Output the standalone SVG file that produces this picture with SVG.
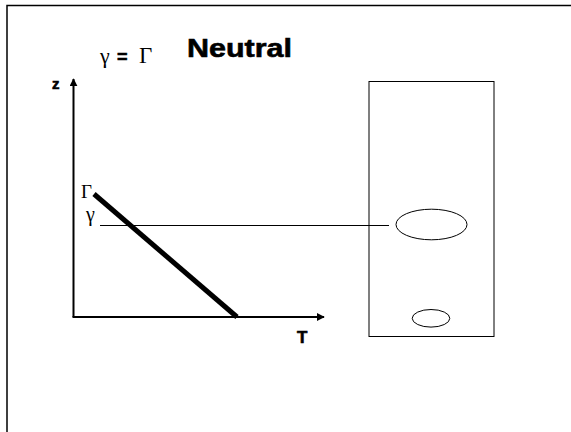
<svg xmlns="http://www.w3.org/2000/svg" width="571" height="432" viewBox="0 0 571 432">
<style>
.sans{font-family:"Liberation Sans",Arial,sans-serif;font-weight:bold;fill:#000;stroke:#000;stroke-width:0.6}
.serif{font-family:"Liberation Serif","Times New Roman",serif;fill:#000}
.thin{stroke:#000;fill:none;stroke-width:1}
</style>
<defs>
<marker id="arr" viewBox="0 0 10 10" refX="9" refY="5" markerWidth="4" markerHeight="4" orient="auto" markerUnits="strokeWidth">
<path d="M0,0 L10,5 L0,10 z" fill="#000"/>
</marker>
</defs>
<rect width="571" height="432" fill="#fff"/>
<path d="M7,432 V5.5 H571" fill="none" stroke="#000" stroke-width="1.5"/>
<g id="title">
<text class="serif" x="100" y="63" font-size="22">γ</text>
<text class="sans" x="117" y="63" font-size="18">=</text>
<text class="serif" x="139" y="63" font-size="23">Γ</text>
<text class="sans" x="187" y="57" font-size="26" textLength="105" lengthAdjust="spacingAndGlyphs">Neutral</text>
</g>
<g id="axes">
<line x1="73.5" y1="317" x2="73.5" y2="79" stroke="#000" stroke-width="2" marker-end="url(#arr)"/>
<line x1="72.5" y1="317" x2="324" y2="317" stroke="#000" stroke-width="2" marker-end="url(#arr)"/>
<text class="sans" x="52" y="89" font-size="15">z</text>
<text class="sans" x="297" y="343" font-size="17">T</text>
</g>
<g id="profile">
<line x1="94" y1="194" x2="237" y2="317" stroke="#000" stroke-width="5"/>
<text class="serif" x="81" y="198" font-size="19">Γ</text>
<text class="serif" x="86" y="221" font-size="20">γ</text>
</g>
<g id="connectors">
<line class="thin" x1="100" y1="225.5" x2="389" y2="225.5"/>
</g>
<g id="column">
<rect class="thin" x="369" y="81.5" width="125" height="255"/>
</g>
<g id="parcel-upper">
<ellipse class="thin" cx="431.5" cy="224.5" rx="35.5" ry="15.3"/>
</g>
<g id="parcel-lower">
<ellipse class="thin" cx="431" cy="318.3" rx="18.8" ry="8.8"/>
</g>
</svg>
